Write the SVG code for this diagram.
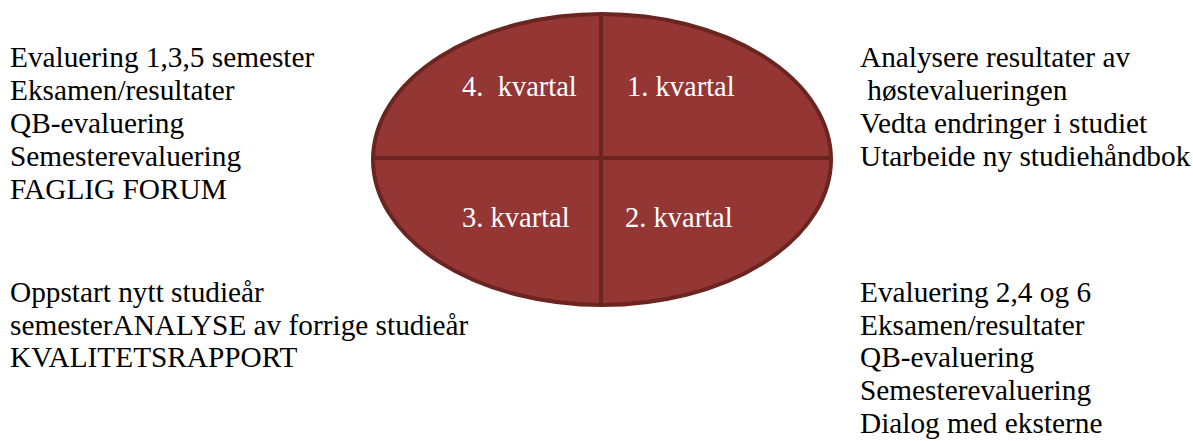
<svg xmlns="http://www.w3.org/2000/svg" width="1193" height="441" viewBox="0 0 1193 441">
<style>
text{font-family:"Liberation Serif","Times New Roman",serif;font-size:29.3px;fill:#000;white-space:pre}
.q{fill:#fff;font-size:28.5px}
.line{stroke:#6b2521;stroke-width:4;fill:none}
</style>
<rect width="1193" height="441" fill="#fff"/>
<g id="circle">
<ellipse cx="602" cy="159.5" rx="229" ry="145.5" fill="#943634" stroke="#6b2521" stroke-width="4"/>
<line class="line" x1="601" y1="14" x2="601" y2="305"/>
<line class="line" x1="373" y1="158" x2="831" y2="158"/>
<text class="q" x="462" y="96">4.  kvartal</text>
<text class="q" x="627" y="96">1. kvartal</text>
<text class="q" x="462" y="227">3. kvartal</text>
<text class="q" x="625" y="227">2. kvartal</text>
</g>
<g id="q4-text">
<text x="10" y="67">Evaluering 1,3,5 semester</text>
<text x="10" y="100">Eksamen/resultater</text>
<text x="10" y="133">QB-evaluering</text>
<text x="10" y="166">Semesterevaluering</text>
<text x="10" y="199">FAGLIG FORUM</text>
</g>
<g id="q1-text">
<text x="860" y="67">Analysere resultater av</text>
<text x="860" y="100"> høstevalueringen</text>
<text x="860" y="133">Vedta endringer i studiet</text>
<text x="860" y="166">Utarbeide ny studiehåndbok</text>
</g>
<g id="q3-text">
<text x="10" y="302">Oppstart nytt studieår</text>
<text x="10" y="335">semesterANALYSE av forrige studieår</text>
<text x="10" y="367">KVALITETSRAPPORT</text>
</g>
<g id="q2-text">
<text x="860" y="302">Evaluering 2,4 og 6</text>
<text x="860" y="335">Eksamen/resultater</text>
<text x="860" y="367">QB-evaluering</text>
<text x="860" y="400">Semesterevaluering</text>
<text x="860" y="433">Dialog med eksterne</text>
</g>
<g id="connectors"/>
</svg>
